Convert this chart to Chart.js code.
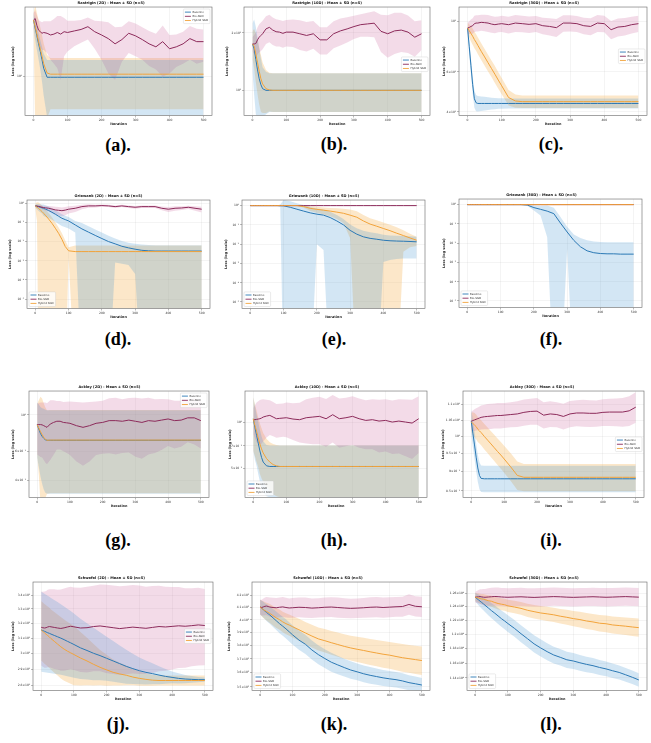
<!DOCTYPE html>
<html>
<head>
<meta charset="utf-8">
<title>Loss curves - Mean ± SD</title>
<script src="https://cdn.jsdelivr.net/npm/chart.js@4.4.1/dist/chart.umd.min.js"></script>
<style>
  body { margin: 0; background: #fff; }
  #fig { position: relative; width: 651px; height: 743px; overflow: hidden; background: #fff; }
  #fig canvas { position: absolute; }
  .cap { position: absolute; font: bold 18px "Liberation Serif", "Times New Roman", serif; line-height: 18px;
         transform: translate(-50%, -50%); white-space: nowrap; color: #000; }
</style>
</head>
<body>
<div id="fig"></div>
<script>
// Iterations at which the curves were sampled
const ITER = [0, 5, 10, 15, 20, 25, 30,
  40, 50, 60, 70, 80, 90, 100,
  120, 140, 160, 180, 200, 220, 240, 260, 280, 300,
  320, 340, 360, 380, 400, 420, 440, 460, 480, 500];
const METHODS = ['Baseline', 'Bio-SGD', 'Hybrid SGD'];
const X_TICKS = [0, 100, 200, 300, 400, 500];

// ---- Rastrigin 2D ----
const RA2_BASE = [5.9, 4.6, 3.6, 2.8, 2.2, 1.7, 1.3,
  0.98, 0.98, 0.98, 0.98, 0.98, 0.98, 0.98,
  0.98, 0.98, 0.98, 0.98, 0.98, 0.98, 0.98, 0.98, 0.98, 0.98,
  0.98, 0.98, 0.98, 0.98, 0.98, 0.98, 0.98, 0.98, 0.98, 0.98];
const RA2_BASE_SD = [1.5, 1.5, 1.3, 1.1, 0.95, 0.85, 0.75,
  0.7, 0.7, 0.7, 0.7, 0.7, 0.7, 0.7,
  0.7, 0.7, 0.7, 0.7, 0.7, 0.7, 0.7, 0.7, 0.7, 0.7,
  0.7, 0.7, 0.7, 0.7, 0.7, 0.7, 0.7, 0.7, 0.7, 0.7];
const RA2_BIO = [5.9, 6.2, 5.0, 4.3, 4.1, 3.9, 4.0,
  3.9, 3.7, 3.8, 4.0, 3.8, 4.1, 4.0,
  4.2, 4.4, 4.8, 4.1, 3.7, 3.3, 2.8, 3.2, 3.9, 3.6,
  3.2, 2.8, 2.55, 3.0, 2.4, 2.55, 2.8, 3.3, 3.0, 3.0];
const RA2_BIO_SD = [1.5, 1.8, 1.8, 1.6, 1.6, 1.6, 1.7,
  1.8, 2.0, 2.3, 2.7, 2.9, 2.2, 1.8,
  1.6, 1.5, 1.6, 1.7, 2.0, 2.2, 1.9, 1.6, 1.8, 1.7,
  1.5, 1.4, 1.3, 2.0, 1.3, 1.2, 1.3, 1.6, 1.5, 1.4];
const RA2_HYB = [5.9, 4.8, 3.8, 3.0, 2.4, 1.9, 1.5,
  1.12, 1.08, 1.08, 1.08, 1.08, 1.08, 1.08,
  1.08, 1.08, 1.08, 1.08, 1.08, 1.08, 1.08, 1.08, 1.08, 1.08,
  1.08, 1.08, 1.08, 1.08, 1.08, 1.08, 1.08, 1.08, 1.08, 1.08];
const RA2_HYB_SD = [1.5, 4.6, 3.6, 2.9, 2.3, 1.8, 1.3,
  0.85, 0.72, 0.72, 0.72, 0.72, 0.72, 0.72,
  0.72, 0.72, 0.72, 0.72, 0.72, 0.72, 0.72, 0.72, 0.72, 0.72,
  0.72, 0.72, 0.72, 0.72, 0.72, 0.72, 0.72, 0.72, 0.72, 0.72];
const RA2_TICKS = [1];
const RA2_LABELS = ['10⁰'];

// ---- Rastrigin 10D ----
const RA10_BASE = [17.5, 16.5, 14.5, 12.8, 11.5, 10.7, 10.2,
  10.0, 10.0, 10.0, 10.0, 10.0, 10.0, 10.0,
  10.0, 10.0, 10.0, 10.0, 10.0, 10.0, 10.0, 10.0, 10.0, 10.0,
  10.0, 10.0, 10.0, 10.0, 10.0, 10.0, 10.0, 10.0, 10.0, 10.0];
const RA10_BASE_SD = [5, 7, 7, 6, 5, 4, 3,
  2.5, 2.3, 2.3, 2.3, 2.3, 2.3, 2.3,
  2.3, 2.3, 2.3, 2.3, 2.3, 2.3, 2.3, 2.3, 2.3, 2.3,
  2.3, 2.3, 2.3, 2.3, 2.3, 2.3, 2.3, 2.3, 2.3, 2.3];
const RA10_BIO = [17.5, 17.5, 17.6, 18.4, 19.0, 19.4, 19.8,
  21.0, 21.4, 20.7, 20.3, 20.2, 19.9, 20.2,
  20.2, 19.8, 19.4, 19.8, 18.4, 18.4, 19.8, 20.5, 21.0, 21.6,
  22.1, 22.3, 22.5, 20.4, 19.8, 20.5, 20.7, 20.2, 19.0, 19.8];
const RA10_BIO_SD = [1.5, 2, 2.5, 3, 3.2, 3.3, 3.4,
  3.5, 3.5, 3.4, 3.3, 3.2, 3.2, 3.2,
  3.3, 3.5, 3.4, 3.3, 3.0, 3.0, 3.2, 3.3, 3.2, 3.0,
  3.0, 3.2, 3.5, 4.5, 5.0, 5.0, 4.8, 4.5, 4.0, 3.5];
const RA10_HYB = [17.5, 17.0, 15.5, 14.0, 12.6, 11.5, 10.8,
  10.2, 10.05, 10.0, 10.0, 10.0, 10.0, 10.0,
  10.0, 10.0, 10.0, 10.0, 10.0, 10.0, 10.0, 10.0, 10.0, 10.0,
  10.0, 10.0, 10.0, 10.0, 10.0, 10.0, 10.0, 10.0, 10.0, 10.0];
const RA10_HYB_SD = [3, 4, 4.5, 4.5, 4.2, 3.8, 3.2,
  2.6, 2.3, 2.3, 2.3, 2.3, 2.3, 2.3,
  2.3, 2.3, 2.3, 2.3, 2.3, 2.3, 2.3, 2.3, 2.3, 2.3,
  2.3, 2.3, 2.3, 2.3, 2.3, 2.3, 2.3, 2.3, 2.3, 2.3];
const RA10_TICKS = [10, 20];
const RA10_LABELS = ['10¹', '2×10¹'];

// ---- Rastrigin 30D ----
const RA30_BASE = [93.5, 77.3, 63.8, 52.7, 45.7, 43.9, 43.6,
  43.6, 43.6, 43.6, 43.6, 43.6, 43.6, 43.6,
  43.6, 43.6, 43.6, 43.6, 43.6, 43.6, 43.6, 43.6, 43.6, 43.6,
  43.6, 43.6, 43.6, 43.6, 43.6, 43.6, 43.6, 43.6, 43.6, 43.6];
const RA30_BASE_SD = [6, 6, 5, 4.5, 4, 3.6, 3.4,
  3.2, 3.0, 2.8, 2.6, 2.5, 2.3, 2.3,
  2.2, 2.2, 2.2, 2.2, 2.2, 2.2, 2.2, 2.2, 2.2, 2.2,
  2.2, 2.2, 2.2, 2.2, 2.2, 2.2, 2.2, 2.2, 2.2, 2.2];
const RA30_BIO = [93.5, 94.0, 95.0, 95.7, 97.7, 98.3, 98.3,
  99.0, 98.7, 98.3, 97.3, 96.7, 97.3, 97.7,
  96.7, 98.3, 97.7, 97.0, 97.7, 95.7, 95.0, 93.8, 98.3, 98.3,
  97.7, 95.7, 95.0, 98.3, 97.7, 91.9, 94.4, 95.0, 96.7, 97.7];
const RA30_BIO_SD = [5, 6, 7, 7.5, 8, 8, 8,
  8, 8.2, 8.4, 8.2, 8, 7.8, 8,
  8.2, 8.4, 8.2, 8, 7.8, 8, 8.3, 8.5, 8.2, 8,
  7.8, 8, 8.2, 8.4, 8.2, 8.5, 8.6, 8.4, 8.2, 8];
const RA30_HYB = [93.5, 91.0, 88.5, 86.0, 83.2, 81.0, 78.5,
  73.9, 69.8, 65.8, 62.1, 58.6, 55.2, 52.1,
  46.3, 44.7, 44.4, 44.4, 44.4, 44.4, 44.4, 44.4, 44.4, 44.4,
  44.4, 44.4, 44.4, 44.4, 44.4, 44.4, 44.4, 44.4, 44.4, 44.4];
const RA30_HYB_SD = [5, 6, 7, 7, 7, 6.8, 6.6,
  6.2, 5.9, 5.5, 5.2, 5.0, 4.6, 4.3,
  3.6, 3.0, 2.8, 2.8, 2.8, 2.8, 2.8, 2.8, 2.8, 2.8,
  2.8, 2.8, 2.8, 2.8, 2.8, 2.8, 2.8, 2.8, 2.8, 2.8];
const RA30_TICKS = [40, 60, 100];
const RA30_LABELS = ['4×10¹', '6×10¹', '10²'];

// ---- Griewank 2D ----
const GR2_BASE = [0.73, 0.70, 0.66, 0.62, 0.58, 0.54, 0.50,
  0.42, 0.34, 0.27, 0.21, 0.165, 0.14, 0.12,
  0.074, 0.046, 0.031, 0.021, 0.0144, 0.010, 0.0076, 0.0057, 0.0047, 0.0040,
  0.0035, 0.0033, 0.0032, 0.0032, 0.0032, 0.0032, 0.0032, 0.0032, 0.0032, 0.0032];
const GR2_BASE_SD = [0.146, 0.21, 0.264, 0.279, 0.29, 0.324, 0.30,
  0.252, 0.204, 0.162, 0.126, 0.099, 0.084, 0.072,
  0.044, 0.047, 0.033, 0.022, 0.0151, 0.0102, 0.0068, 0.0050, 0.0041, 0.0038,
  0.0036, 0.0034, 0.0033, 0.0033, 0.0033, 0.0033, 0.0033, 0.0033, 0.0033, 0.0033];
const GR2_BIO = [0.73, 0.71, 0.69, 0.66, 0.62, 0.60, 0.58,
  0.55, 0.50, 0.45, 0.43, 0.41, 0.44, 0.49,
  0.55, 0.67, 0.73, 0.73, 0.76, 0.73, 0.67, 0.73, 0.67, 0.62,
  0.67, 0.67, 0.67, 0.55, 0.49, 0.55, 0.57, 0.62, 0.55, 0.49];
const GR2_BIO_SD = [0.05, 0.08, 0.10, 0.12, 0.14, 0.15, 0.16,
  0.18, 0.20, 0.20, 0.20, 0.20, 0.20, 0.20,
  0.20, 0.18, 0.15, 0.12, 0.10, 0.10, 0.10, 0.10, 0.10, 0.10,
  0.10, 0.10, 0.10, 0.12, 0.14, 0.14, 0.13, 0.12, 0.14, 0.16];
const GR2_HYB = [0.73, 0.62, 0.53, 0.45, 0.37, 0.30, 0.24,
  0.15, 0.09, 0.05, 0.027, 0.013, 0.0055, 0.0033,
  0.0030, 0.0030, 0.0030, 0.0030, 0.0030, 0.0030, 0.0030, 0.0030, 0.0030, 0.0030,
  0.0030, 0.0030, 0.0030, 0.0030, 0.0030, 0.0030, 0.0030, 0.0030, 0.0030, 0.0030];
const GR2_HYB_SD = [0.22, 0.50, 0.56, 0.47, 0.39, 0.32, 0.25,
  0.16, 0.095, 0.053, 0.028, 0.014, 0.0058, 0.0018,
  0.0032, 0.0032, 0.0032, 0.0032, 0.0032, 0.0032, 0.0032, 0.0032, 0.0032, 0.0032,
  0.0032, 0.0032, 0.0032, 0.0032, 0.0032, 0.0032, 0.0032, 0.0032, 0.0032, 0.0032];
const GR_TICKS = [1e-5, 1e-4, 1e-3, 1e-2, 1e-1, 1];
const GR_LABELS = ['10⁻⁵', '10⁻⁴', '10⁻³', '10⁻²', '10⁻¹', '10⁰'];

// ---- Griewank 10D ----
const GR10_BASE = [1, 1, 1, 1, 1, 1, 1,
  1, 1, 1, 1, 1, 0.99, 0.97,
  0.82, 0.65, 0.52, 0.42, 0.36, 0.32, 0.24, 0.16, 0.10, 0.052,
  0.033, 0.024, 0.020, 0.018, 0.016, 0.015, 0.0145, 0.0142, 0.0138, 0.0132];
const GR10_BASE_SD = [0.01, 0.01, 0.01, 0.01, 0.01, 0.01, 0.01,
  0.01, 0.01, 0.01, 0.01, 0.01, 0.15, 1.0,
  0.84, 0.67, 0.54, 0.43, 0.35, 0.315, 0.245, 0.165, 0.103, 0.054,
  0.034, 0.025, 0.021, 0.019, 0.0148, 0.0135, 0.0128, 0.0124, 0.012, 0.0114];
const GR10_BIO = [1, 1, 1, 1, 1, 1, 1,
  1, 1, 1, 1, 1, 1, 1,
  1, 1, 1, 1, 1, 1, 1, 1, 1, 1,
  1, 1, 1, 1, 1, 1, 1, 1, 1, 1];
const GR10_BIO_SD = [0.003, 0.003, 0.003, 0.003, 0.003, 0.003, 0.003,
  0.003, 0.003, 0.003, 0.003, 0.003, 0.003, 0.003,
  0.003, 0.003, 0.003, 0.003, 0.003, 0.003, 0.003, 0.003, 0.003, 0.003,
  0.003, 0.003, 0.003, 0.003, 0.003, 0.003, 0.003, 0.003, 0.003, 0.003];
const GR10_HYB = [1, 1, 1, 1, 1, 1, 1,
  1, 1, 1, 1, 1, 1, 1,
  1, 1, 0.9, 0.72, 0.64, 0.58, 0.52, 0.46, 0.40, 0.32,
  0.25, 0.16, 0.11, 0.085, 0.065, 0.05, 0.037, 0.028, 0.021, 0.016];
const GR10_HYB_SD = [0.01, 0.01, 0.01, 0.01, 0.01, 0.01, 0.01,
  0.01, 0.01, 0.01, 0.01, 0.01, 0.01, 0.01,
  0.01, 0.01, 0.12, 0.20, 0.22, 0.23, 0.24, 0.26, 0.28, 0.30,
  0.26, 0.165, 0.113, 0.087, 0.067, 0.051, 0.038, 0.024, 0.014, 0.008];

// ---- Griewank 30D ----
const GR30_BASE = [1, 1, 1, 1, 1, 1, 1,
  1, 1, 1, 1, 1, 1, 1,
  1, 1, 1, 0.95, 0.70, 0.57, 0.46, 0.34, 0.11, 0.038,
  0.014, 0.0065, 0.004, 0.0032, 0.0029, 0.0028, 0.0028, 0.0027, 0.0027, 0.0027];
const GR30_BASE_SD = [0.01, 0.01, 0.01, 0.01, 0.01, 0.01, 0.01,
  0.01, 0.01, 0.01, 0.01, 0.01, 0.01, 0.01,
  0.01, 0.01, 0.01, 0.08, 0.20, 0.30, 0.44, 0.35, 0.115, 0.033,
  0.0145, 0.012, 0.010, 0.009, 0.0085, 0.0085, 0.0085, 0.0085, 0.0085, 0.0085];
const GR30_BIO = [1, 1, 1, 1, 1, 1, 1,
  1, 1, 1, 1, 1, 1, 1,
  1, 1, 1, 1, 1, 1, 1, 1, 1, 1,
  1, 1, 1, 1, 1, 1, 1, 1, 1, 1];
const GR30_BIO_SD = [0.003, 0.003, 0.003, 0.003, 0.003, 0.003, 0.003,
  0.003, 0.003, 0.003, 0.003, 0.003, 0.003, 0.003,
  0.003, 0.003, 0.003, 0.003, 0.003, 0.003, 0.003, 0.003, 0.003, 0.003,
  0.003, 0.003, 0.003, 0.003, 0.003, 0.003, 0.003, 0.003, 0.003, 0.003];
const GR30_HYB = [1, 1, 1, 1, 1, 1, 1,
  1, 1, 1, 1, 1, 1, 1,
  1, 1, 1, 1, 1, 1, 1, 1, 1, 1,
  1, 1, 1, 1, 1, 1, 1, 1, 1, 1];
const GR30_HYB_SD = [0.004, 0.004, 0.004, 0.004, 0.004, 0.004, 0.004,
  0.004, 0.004, 0.004, 0.004, 0.004, 0.004, 0.004,
  0.004, 0.004, 0.004, 0.004, 0.004, 0.004, 0.004, 0.004, 0.004, 0.004,
  0.004, 0.004, 0.004, 0.004, 0.004, 0.004, 0.004, 0.004, 0.004, 0.004];

// ---- Ackley 2D ----
const AC2_BASE = [0.87, 0.82, 0.77, 0.74, 0.72, 0.705, 0.70,
  0.70, 0.70, 0.70, 0.70, 0.70, 0.70, 0.70,
  0.70, 0.70, 0.70, 0.70, 0.70, 0.70, 0.70, 0.70, 0.70, 0.70,
  0.70, 0.70, 0.70, 0.70, 0.70, 0.70, 0.70, 0.70, 0.70, 0.70];
const AC2_BASE_SD = [0.32, 0.34, 0.35, 0.36, 0.37, 0.37, 0.37,
  0.37, 0.37, 0.37, 0.37, 0.37, 0.37, 0.37,
  0.37, 0.37, 0.37, 0.37, 0.37, 0.37, 0.37, 0.37, 0.37, 0.37,
  0.37, 0.37, 0.37, 0.37, 0.37, 0.37, 0.37, 0.37, 0.37, 0.37];
const AC2_BIO = [0.873, 0.873, 0.873, 0.87, 0.86, 0.85, 0.84,
  0.88, 0.90, 0.915, 0.915, 0.90, 0.895, 0.889,
  0.86, 0.84, 0.86, 0.889, 0.90, 0.923, 0.923, 0.915, 0.93, 0.915,
  0.90, 0.923, 0.915, 0.93, 0.945, 0.923, 0.93, 0.96, 0.96, 0.923];
const AC2_BIO_SD = [0.30, 0.31, 0.32, 0.32, 0.33, 0.34, 0.34,
  0.35, 0.33, 0.30, 0.30, 0.30, 0.31, 0.32,
  0.34, 0.35, 0.34, 0.32, 0.32, 0.34, 0.35, 0.33, 0.34, 0.36,
  0.36, 0.35, 0.33, 0.32, 0.30, 0.30, 0.29, 0.28, 0.30, 0.30];
const AC2_HYB = [0.87, 0.83, 0.79, 0.76, 0.73, 0.71, 0.70,
  0.702, 0.702, 0.702, 0.702, 0.702, 0.702, 0.702,
  0.702, 0.702, 0.702, 0.702, 0.702, 0.702, 0.702, 0.702, 0.702, 0.702,
  0.702, 0.702, 0.702, 0.702, 0.702, 0.702, 0.702, 0.702, 0.702, 0.702];
const AC2_HYB_SD = [0.30, 0.40, 0.50, 0.50, 0.45, 0.40, 0.37,
  0.37, 0.37, 0.37, 0.37, 0.37, 0.37, 0.37,
  0.37, 0.37, 0.37, 0.37, 0.37, 0.37, 0.37, 0.37, 0.37, 0.37,
  0.37, 0.37, 0.37, 0.37, 0.37, 0.37, 0.37, 0.37, 0.37, 0.37];
const AC2_TICKS = [0.4, 0.6, 1];
const AC2_LABELS = ['4×10⁻¹', '6×10⁻¹', '10⁰'];

// ---- Ackley 10D ----
const AC10_BASE = [1.05, 0.92, 0.82, 0.73, 0.65, 0.59, 0.55,
  0.52, 0.515, 0.515, 0.515, 0.515, 0.515, 0.515,
  0.515, 0.515, 0.515, 0.515, 0.515, 0.515, 0.515, 0.515, 0.515, 0.515,
  0.515, 0.515, 0.515, 0.515, 0.515, 0.515, 0.515, 0.515, 0.515, 0.515];
const AC10_BASE_SD = [0.40, 0.35, 0.30, 0.27, 0.24, 0.22, 0.20,
  0.19, 0.19, 0.19, 0.19, 0.19, 0.19, 0.19,
  0.19, 0.19, 0.19, 0.19, 0.19, 0.19, 0.19, 0.19, 0.19, 0.19,
  0.19, 0.19, 0.19, 0.19, 0.19, 0.19, 0.19, 0.19, 0.19, 0.19];
const AC10_BIO = [1.036, 1.036, 1.041, 1.046, 1.051, 1.062, 1.078,
  1.094, 1.105, 1.078, 1.051, 1.057, 1.062, 1.067,
  1.046, 1.036, 1.067, 1.078, 1.089, 1.051, 1.116, 1.051, 1.067, 1.089,
  1.051, 1.025, 1.036, 1.015, 1.025, 1.0, 1.015, 1.0, 0.985, 1.051];
const AC10_BIO_SD = [0.20, 0.25, 0.30, 0.32, 0.34, 0.34, 0.33,
  0.30, 0.28, 0.27, 0.26, 0.26, 0.26, 0.27,
  0.28, 0.30, 0.34, 0.36, 0.37, 0.36, 0.38, 0.37, 0.37, 0.38,
  0.37, 0.36, 0.37, 0.38, 0.38, 0.38, 0.39, 0.40, 0.41, 0.42];
const AC10_HYB = [1.05, 0.95, 0.87, 0.79, 0.72, 0.67, 0.63,
  0.58, 0.55, 0.53, 0.52, 0.515, 0.515, 0.515,
  0.515, 0.515, 0.515, 0.515, 0.515, 0.515, 0.515, 0.515, 0.515, 0.515,
  0.515, 0.515, 0.515, 0.515, 0.515, 0.515, 0.515, 0.515, 0.515, 0.515];
const AC10_HYB_SD = [0.40, 0.35, 0.32, 0.28, 0.26, 0.24, 0.22,
  0.20, 0.19, 0.19, 0.19, 0.19, 0.19, 0.19,
  0.19, 0.19, 0.19, 0.19, 0.19, 0.19, 0.19, 0.19, 0.19, 0.19,
  0.19, 0.19, 0.19, 0.19, 0.19, 0.19, 0.19, 0.19, 0.19, 0.19];
const AC10_TICKS = [0.5, 0.7, 1];
const AC10_LABELS = ['5×10⁻¹', '7×10⁻¹', '10⁰'];

// ---- Ackley 30D ----
const AC30_BASE = [1.047, 1.01, 0.975, 0.94, 0.91, 0.89, 0.882,
  0.881, 0.881, 0.881, 0.881, 0.881, 0.881, 0.881,
  0.881, 0.881, 0.881, 0.881, 0.881, 0.881, 0.881, 0.881, 0.881, 0.881,
  0.881, 0.881, 0.881, 0.881, 0.881, 0.881, 0.881, 0.881, 0.881, 0.881];
const AC30_BASE_SD = [0.04, 0.04, 0.04, 0.038, 0.037, 0.036, 0.035,
  0.035, 0.035, 0.035, 0.035, 0.035, 0.035, 0.035,
  0.035, 0.035, 0.035, 0.035, 0.035, 0.035, 0.035, 0.035, 0.035, 0.035,
  0.035, 0.035, 0.035, 0.035, 0.035, 0.035, 0.035, 0.035, 0.035, 0.035];
const AC30_BIO = [1.047, 1.049, 1.051, 1.053, 1.055, 1.057, 1.059,
  1.061, 1.062, 1.063, 1.064, 1.065, 1.065, 1.066,
  1.068, 1.07, 1.075, 1.078, 1.079, 1.066, 1.07, 1.068, 1.062, 1.07,
  1.073, 1.073, 1.072, 1.072, 1.075, 1.076, 1.076, 1.076, 1.08, 1.092];
const AC30_BIO_SD = [0.03, 0.032, 0.034, 0.035, 0.036, 0.037, 0.038,
  0.039, 0.04, 0.04, 0.04, 0.041, 0.041, 0.04,
  0.04, 0.041, 0.042, 0.042, 0.043, 0.042, 0.041, 0.04, 0.041, 0.042,
  0.042, 0.043, 0.043, 0.042, 0.043, 0.044, 0.045, 0.046, 0.048, 0.05];
const AC30_HYB = [1.044, 1.04, 1.035, 1.03, 1.022, 1.017, 1.012,
  1.0, 0.989, 0.978, 0.967, 0.956, 0.946, 0.935,
  0.913, 0.89, 0.885, 0.885, 0.885, 0.885, 0.885, 0.885, 0.885, 0.885,
  0.885, 0.885, 0.885, 0.885, 0.885, 0.885, 0.885, 0.885, 0.885, 0.885];
const AC30_HYB_SD = [0.03, 0.035, 0.038, 0.038, 0.038, 0.038, 0.038,
  0.038, 0.038, 0.038, 0.038, 0.038, 0.038, 0.038,
  0.038, 0.038, 0.036, 0.036, 0.036, 0.036, 0.036, 0.036, 0.036, 0.036,
  0.036, 0.036, 0.036, 0.036, 0.036, 0.036, 0.036, 0.036, 0.036, 0.036];
const AC30_TICKS = [0.85, 0.9, 0.95, 1, 1.05, 1.1];
const AC30_LABELS = ['8.5×10⁻¹', '9×10⁻¹', '9.5×10⁻¹', '10⁰', '1.05×10⁰', '1.1×10⁰'];

// ---- Schwefel 2D ----
const SC2_BASE = [315.5, 315.0, 314.6, 314.1, 313.6, 313.2, 312.7,
  311.8, 310.9, 310.0, 309.0, 307.9, 306.9, 305.8,
  303.6, 301.9, 300.1, 298.6, 296.9, 295.2, 293.5, 291.8, 290.4, 289.1,
  288.1, 287.3, 286.4, 285.6, 285.0, 284.4, 284.0, 283.8, 283.6, 283.6];
const SC2_BASE_SD = [27, 26.7, 26.4, 26.1, 25.8, 25.5, 25.2,
  24.6, 24.0, 23.4, 22.8, 22.2, 21.6, 21.0,
  19.6, 18.2, 16.8, 15.4, 14.0, 12.9, 11.7, 10.6, 9.4, 8.3,
  7.4, 6.4, 5.5, 4.5, 3.6, 3.1, 2.5, 2.0, 1.6, 1.3];
const SC2_BIO = [317.3, 317.0, 316.8, 317.0, 317.5, 317.8, 317.6,
  317.2, 316.8, 316.5, 316.9, 317.5, 318.0, 317.6,
  316.8, 317.0, 317.8, 318.2, 317.6, 317.0, 316.4, 316.9, 317.4, 317.0,
  316.6, 317.2, 317.8, 317.5, 317.9, 318.3, 318.0, 318.4, 318.9, 318.5];
const SC2_BIO_SD = [25, 25.4, 25.8, 26, 26.3, 26.5, 26.7,
  27, 27, 27.5, 27.8, 28, 28, 28,
  28.5, 29, 29, 29.5, 30, 30, 30, 30, 30, 30,
  29.5, 29.5, 29, 28.5, 28, 27.5, 27, 26.5, 26.5, 26];
const SC2_HYB = [315.5, 314.6, 313.5, 312.6, 311.7, 310.8, 309.7,
  307.9, 306.1, 304.3, 302.8, 301.5, 300.4, 299.3,
  297.1, 295.2, 293.1, 291.2, 289.6, 288.1, 287.1, 286.3, 285.2, 284.4,
  283.8, 283.3, 283.1, 283.1, 283.1, 283.1, 283.1, 283.1, 283.1, 283.1];
const SC2_HYB_SD = [20, 20, 20, 20, 20, 20, 20,
  20, 20, 20, 19.8, 19.5, 19.2, 19,
  17, 15, 13, 11, 9.6, 8, 7, 6, 5, 4.4,
  3.8, 3.3, 3, 3, 3, 3, 3, 3, 3, 3];
const SC2_TICKS = [280, 290, 300, 310, 320, 330, 340];
const SC2_LABELS = ['2.8×10²', '2.9×10²', '3×10²', '3.1×10²', '3.2×10²', '3.3×10²', '3.4×10²'];

// ---- Schwefel 10D ----
const SC10_BASE = [4104, 4093, 4083, 4070, 4060, 4049, 4039,
  4016, 3993, 3970, 3950, 3929, 3906, 3883,
  3842, 3810, 3767, 3732, 3703, 3676, 3656, 3637, 3619, 3606,
  3592, 3581, 3572, 3563, 3556, 3550, 3541, 3529, 3521, 3512];
const SC10_BASE_SD = [60, 62, 64, 66, 68, 69, 70,
  72, 74, 75, 75, 75, 75, 75,
  74, 73, 72, 71, 70, 69, 67, 65, 63, 61,
  60, 59, 58, 57, 56, 55, 54, 53, 51, 50];
const SC10_BIO = [4104, 4100, 4105, 4110, 4112, 4108, 4104,
  4100, 4098, 4102, 4105, 4100, 4096, 4098,
  4102, 4100, 4095, 4098, 4102, 4104, 4100, 4096, 4093, 4095,
  4098, 4102, 4104, 4100, 4103, 4106, 4108, 4125, 4110, 4106];
const SC10_BIO_SD = [60, 65, 70, 72, 75, 77, 78,
  80, 80, 81, 82, 80, 79, 80,
  81, 82, 80, 79, 80, 81, 82, 80, 79, 80,
  81, 82, 83, 82, 81, 80, 82, 84, 83, 82];
const SC10_HYB = [4104, 4093, 4083, 4075, 4067, 4060, 4052,
  4034, 4016, 4002, 3984, 3970, 3959, 3946,
  3922, 3897, 3873, 3851, 3837, 3822, 3808, 3794, 3782, 3772,
  3763, 3753, 3744, 3735, 3728, 3718, 3709, 3702, 3695, 3688];
const SC10_HYB_SD = [60, 64, 68, 70, 72, 74, 76,
  78, 80, 81, 82, 83, 84, 85,
  86, 87, 88, 89, 90, 91, 92, 93, 94, 95,
  96, 97, 98, 99, 100, 101, 102, 103, 104, 105];
const SC10_TICKS = [3500, 3600, 3700, 3800, 3900, 4000, 4100, 4200];
const SC10_LABELS = ['3.5×10³', '3.6×10³', '3.7×10³', '3.8×10³', '3.9×10³', '4×10³', '4.1×10³', '4.2×10³'];

// ---- Schwefel 30D ----
const SC30_BASE = [12540, 12520, 12500, 12480, 12461, 12441, 12421,
  12381, 12341, 12304, 12265, 12226, 12192, 12155,
  12086, 12010, 11939, 11867, 11810, 11758, 11712, 11680, 11646, 11629,
  11605, 11583, 11565, 11541, 11521, 11496, 11473, 11441, 11408, 11372];
const SC30_BASE_SD = [60, 70, 78, 84, 90, 95, 100,
  105, 110, 112, 115, 117, 118, 120,
  120, 120, 120, 120, 120, 118, 116, 114, 112, 110,
  108, 106, 104, 102, 100, 98, 96, 94, 92, 90];
const SC30_BIO = [12540, 12542, 12545, 12548, 12544, 12540, 12538,
  12542, 12546, 12550, 12547, 12543, 12540, 12538,
  12542, 12545, 12540, 12536, 12540, 12544, 12548, 12545, 12540, 12537,
  12540, 12543, 12546, 12542, 12538, 12541, 12545, 12548, 12544, 12540];
const SC30_BIO_SD = [80, 90, 100, 110, 115, 120, 125,
  130, 133, 135, 135, 135, 135, 135,
  136, 135, 134, 135, 136, 137, 135, 134, 135, 136,
  135, 134, 135, 136, 137, 135, 134, 135, 136, 135];
const SC30_HYB = [12540, 12535, 12526, 12520, 12514, 12510, 12502,
  12488, 12479, 12461, 12446, 12436, 12428, 12412,
  12394, 12375, 12347, 12327, 12308, 12295, 12281, 12261, 12245, 12226,
  12212, 12192, 12178, 12160, 12152, 12135, 12126, 12117, 12106, 12096];
const SC30_HYB_SD = [60, 64, 68, 72, 74, 76, 78,
  80, 82, 84, 86, 88, 89, 90,
  92, 94, 96, 98, 100, 102, 104, 106, 108, 110,
  112, 114, 116, 118, 120, 122, 124, 126, 128, 130];
const SC30_TICKS = [11400, 11600, 11800, 12000, 12200, 12400, 12600];
const SC30_LABELS = ['1.14×10⁴', '1.16×10⁴', '1.18×10⁴', '1.2×10⁴', '1.22×10⁴', '1.24×10⁴', '1.26×10⁴'];

// Panel layout: box = plot frame [left, top, right, bottom], ytx = x of y-axis title
const PANELS = [
  { cap: '(a).', title: 'Rastrigin (2D) - Mean ± SD (n=5)', box: [25, 7, 212, 115], ytx: 13, capPos: [118, 145],
    ymin: 0.295, ymax: 8.9, ticks: RA2_TICKS, labels: RA2_LABELS, legend: 'ne',
    series: [[RA2_BASE, RA2_BASE_SD], [RA2_BIO, RA2_BIO_SD], [RA2_HYB, RA2_HYB_SD]] },
  { cap: '(b).', title: 'Rastrigin (10D) - Mean ± SD (n=5)', box: [244, 7, 430, 115], ytx: 227, capPos: [334, 144],
    ymin: 7.38, ymax: 27.35, ticks: RA10_TICKS, labels: RA10_LABELS, legend: 'e', dy: 3,
    series: [[RA10_BASE, RA10_BASE_SD], [RA10_BIO, RA10_BIO_SD], [RA10_HYB, RA10_HYB_SD]] },
  { cap: '(c).', title: 'Rastrigin (30D) - Mean ± SD (n=5)', box: [459, 7, 647, 115], ytx: 444, capPos: [551, 144],
    ymin: 38.6, ymax: 115.6, ticks: RA30_TICKS, labels: RA30_LABELS, legend: 'e', dy: -5,
    series: [[RA30_BASE, RA30_BASE_SD], [RA30_BIO, RA30_BIO_SD], [RA30_HYB, RA30_HYB_SD]] },
  { cap: '(d).', title: 'Griewank (2D) - Mean ± SD (n=5)', box: [27, 200, 210, 308], ytx: 10, capPos: [118, 339],
    ymin: 3.2e-6, ymax: 1.48, ticks: GR_TICKS, labels: GR_LABELS, legend: 'sw',
    series: [[GR2_BASE, GR2_BASE_SD], [GR2_BIO, GR2_BIO_SD], [GR2_HYB, GR2_HYB_SD]] },
  { cap: '(e).', title: 'Griewank (10D) - Mean ± SD (n=5)', box: [242, 200, 425, 308], ytx: 226, capPos: [334, 339],
    ymin: 4.6e-6, ymax: 1.95, ticks: GR_TICKS, labels: GR_LABELS, legend: 'sw',
    series: [[GR10_BASE, GR10_BASE_SD], [GR10_BIO, GR10_BIO_SD], [GR10_HYB, GR10_HYB_SD]] },
  { cap: '(f).', title: 'Griewank (30D) - Mean ± SD (n=5)', box: [459, 199, 642, 307], ytx: 444, capPos: [551, 339],
    ymin: 4.6e-6, ymax: 1.95, ticks: GR_TICKS, labels: GR_LABELS, legend: 'sw',
    series: [[GR30_BASE, GR30_BASE_SD], [GR30_BIO, GR30_BIO_SD], [GR30_HYB, GR30_HYB_SD]] },
  { cap: '(g).', title: 'Ackley (2D) - Mean ± SD (n=5)', box: [29, 391, 209, 497], ytx: 13, capPos: [118, 540],
    ymin: 0.313, ymax: 1.40, ticks: AC2_TICKS, labels: AC2_LABELS, legend: 'ne',
    series: [[AC2_BASE, AC2_BASE_SD], [AC2_BIO, AC2_BIO_SD], [AC2_HYB, AC2_HYB_SD]] },
  { cap: '(h).', title: 'Ackley (10D) - Mean ± SD (n=5)', box: [245, 391, 427, 497], ytx: 230, capPos: [334, 540],
    ymin: 0.324, ymax: 1.59, ticks: AC10_TICKS, labels: AC10_LABELS, legend: 'sw',
    series: [[AC10_BASE, AC10_BASE_SD], [AC10_BIO, AC10_BIO_SD], [AC10_HYB, AC10_HYB_SD]] },
  { cap: '(i).', title: 'Ackley (30D) - Mean ± SD (n=5)', box: [463, 391, 644, 497], ytx: 443, capPos: [551, 540],
    ymin: 0.833, ymax: 1.146, ticks: AC30_TICKS, labels: AC30_LABELS, legend: 'e', dy: 0,
    series: [[AC30_BASE, AC30_BASE_SD], [AC30_BIO, AC30_BIO_SD], [AC30_HYB, AC30_HYB_SD]] },
  { cap: '(j).', title: 'Schwefel (2D) - Mean ± SD (n=5)', box: [33, 582, 213, 690], ytx: 13, capPos: [118, 724],
    ymin: 277.1, ymax: 349.6, ticks: SC2_TICKS, labels: SC2_LABELS, legend: 'e', dy: 0,
    series: [[SC2_BASE, SC2_BASE_SD], [SC2_BIO, SC2_BIO_SD], [SC2_HYB, SC2_HYB_SD]] },
  { cap: '(k).', title: 'Schwefel (10D) - Mean ± SD (n=5)', box: [252, 582, 430, 690], ytx: 229, capPos: [334, 724],
    ymin: 3474, ymax: 4314, ticks: SC10_TICKS, labels: SC10_LABELS, legend: 'sw',
    series: [[SC10_BASE, SC10_BASE_SD], [SC10_BIO, SC10_BIO_SD], [SC10_HYB, SC10_HYB_SD]] },
  { cap: '(l).', title: 'Schwefel (30D) - Mean ± SD (n=5)', box: [467, 582, 647, 690], ytx: 444, capPos: [551, 724],
    ymin: 11231, ymax: 12766, ticks: SC30_TICKS, labels: SC30_LABELS, legend: 'sw',
    series: [[SC30_BASE, SC30_BASE_SD], [SC30_BIO, SC30_BIO_SD], [SC30_HYB, SC30_HYB_SD]] }
];

const FONT = 'DejaVu Sans';
const LINE_COLORS = ['#2a78b4', '#8c2a5a', '#f2a33a'];
const BAND_COLORS = ['rgba(70,150,210,0.24)', 'rgba(200,90,150,0.22)', 'rgba(246,170,60,0.28)'];
const fig = document.getElementById('fig');

Chart.defaults.font.family = FONT;

// frame around the axes + small legend inside the plot
function framePlugin(p) {
  return {
    id: 'frameLegend',
    afterDatasetsDraw(chart) {
      const { ctx, chartArea: a } = chart;
      ctx.save();
      ctx.strokeStyle = '#666';
      ctx.lineWidth = 0.6;
      ctx.strokeRect(a.left, a.top, a.right - a.left, a.bottom - a.top);

      ctx.font = '2.7px "' + FONT + '"';
      const tw = Math.max(...METHODS.map(t => ctx.measureText(t).width));
      const rowH = 4.2;
      const w = tw + 11, h = rowH * 3 + 2;
      let x, y;
      if (p.legend === 'ne') { x = a.right - w - 2; y = a.top + 2; }
      else if (p.legend === 'e') { x = a.right - w - 2; y = (a.top + a.bottom) / 2 - h / 2 + (p.dy || 0); }
      else { x = a.left + 2; y = a.bottom - h - 2; }
      ctx.fillStyle = 'rgba(255,255,255,0.8)';
      ctx.strokeStyle = '#cccccc';
      ctx.lineWidth = 0.4;
      ctx.beginPath();
      ctx.roundRect(x, y, w, h, 1);
      ctx.fill();
      ctx.stroke();
      ctx.textBaseline = 'middle';
      ctx.textAlign = 'left';
      METHODS.forEach((t, k) => {
        const cy = y + 1 + rowH * k + rowH / 2;
        ctx.strokeStyle = LINE_COLORS[k];
        ctx.lineWidth = 0.9;
        ctx.beginPath();
        ctx.moveTo(x + 1.5, cy);
        ctx.lineTo(x + 7.5, cy);
        ctx.stroke();
        ctx.fillStyle = '#333';
        ctx.fillText(t, x + 9, cy);
      });
      ctx.restore();
    }
  };
}

function makePanel(p) {
  const [bl, bt, br, bb] = p.box;
  const left = p.ytx - 3, top = bt - 7;
  const yw = bl - left, xh = 11.5;
  const w = Math.round(br - left + 2), h = Math.round(bb + xh - top);
  const cv = document.createElement('canvas');
  cv.width = w; cv.height = h;
  cv.style.left = left + 'px'; cv.style.top = top + 'px';
  cv.style.width = w + 'px'; cv.style.height = h + 'px';
  fig.appendChild(cv);

  const floor = p.ymin / 1e4;
  const datasets = [];
  // shaded mean ± SD bands
  p.series.forEach(([mean, sd], k) => {
    datasets.push({
      data: mean.map((m, i) => ({ x: ITER[i], y: m - sd[i] > 0 ? m - sd[i] : floor })),
      borderWidth: 0, borderColor: 'rgba(0,0,0,0)', pointRadius: 0, fill: false, order: 10
    });
    datasets.push({
      data: mean.map((m, i) => ({ x: ITER[i], y: m + sd[i] })),
      borderWidth: 0, borderColor: 'rgba(0,0,0,0)', backgroundColor: BAND_COLORS[k],
      pointRadius: 0, fill: '-1', order: 10
    });
  });
  // mean lines
  p.series.forEach(([mean], k) => {
    datasets.push({
      label: METHODS[k],
      data: mean.map((m, i) => ({ x: ITER[i], y: m })),
      borderColor: LINE_COLORS[k], borderWidth: 1, pointRadius: 0, fill: false, tension: 0, order: 3 - k
    });
  });

  new Chart(cv.getContext('2d'), {
    type: 'line',
    data: { datasets },
    options: {
      responsive: false,
      animation: false,
      devicePixelRatio: 1,
      events: [],
      layout: { padding: { left: 0, right: 2, top: 0, bottom: 0 }, autoPadding: false },
      plugins: {
        legend: { display: false },
        tooltip: { enabled: false },
        title: {
          display: true, text: p.title, color: '#111',
          font: { family: FONT, size: 3.6, weight: 'bold' },
          padding: { top: 1.2, bottom: 1.5 }
        }
      },
      scales: {
        x: {
          type: 'linear', min: -25, max: 525, bounds: 'data',
          afterBuildTicks: s => { s.ticks = X_TICKS.map(v => ({ value: v })); },
          afterFit: s => { s.height = xh; },
          ticks: { font: { size: 3 }, color: '#333', padding: 1, maxRotation: 0, autoSkip: false },
          grid: { color: 'rgba(0,0,0,0.09)', lineWidth: 0.5, tickLength: 2, tickColor: '#777' },
          border: { display: false },
          title: { display: true, text: 'Iteration', color: '#222', font: { size: 3.4, weight: 'bold' },
                   padding: { top: 0, bottom: 1 } }
        },
        y: {
          type: 'logarithmic', min: p.ymin, max: p.ymax, bounds: 'data',
          afterBuildTicks: s => { s.ticks = p.ticks.map(v => ({ value: v })); },
          afterFit: s => { s.width = yw; },
          ticks: { font: { size: 3 }, color: '#333', padding: 1, autoSkip: false,
                   callback: (v, i) => p.labels[i] },
          grid: { color: 'rgba(0,0,0,0.09)', lineWidth: 0.5, tickLength: 2, tickColor: '#777' },
          border: { display: false },
          title: { display: true, text: 'Loss (log scale)', color: '#222', font: { size: 3.4, weight: 'bold' },
                   padding: { top: 1, bottom: 0 } }
        }
      }
    },
    plugins: [framePlugin(p)]
  });

  const cap = document.createElement('div');
  cap.className = 'cap';
  cap.textContent = p.cap;
  cap.style.left = p.capPos[0] + 'px';
  cap.style.top = p.capPos[1] + 'px';
  fig.appendChild(cap);
}

PANELS.forEach(makePanel);
</script>
</body>
</html>
